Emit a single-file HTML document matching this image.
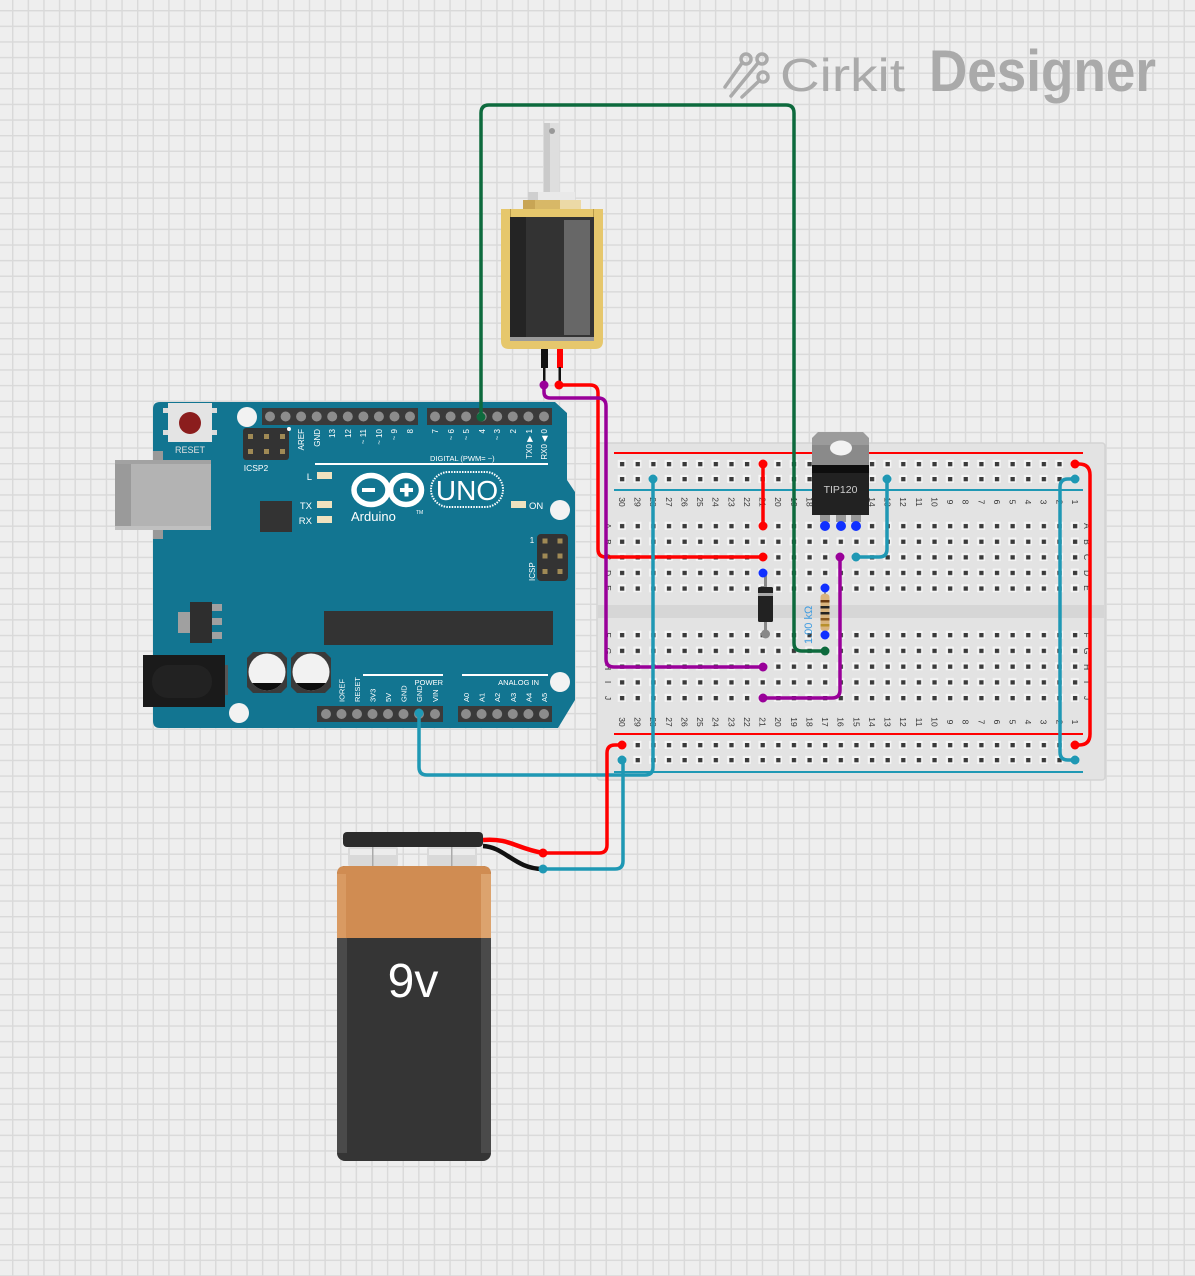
<!DOCTYPE html>
<html><head><meta charset="utf-8"><style>
html,body{margin:0;padding:0;width:1195px;height:1276px;overflow:hidden;background:#eee}
svg{display:block}
text{font-family:"Liberation Sans","DejaVu Sans",sans-serif}
</style></head><body>
<svg width="1195" height="1276" viewBox="0 0 1195 1276" xmlns="http://www.w3.org/2000/svg">
<defs>
<pattern id="grid" x="12" y="10" width="15.62" height="15.62" patternUnits="userSpaceOnUse">
<rect width="15.62" height="15.62" fill="#eeeeee"/>
<rect width="1.4" height="15.62" fill="#d9d9d9"/>
<rect width="15.62" height="1.4" fill="#d9d9d9"/>
</pattern>
<pattern id="hA" x="614.19" y="518.2" width="15.62" height="15.6" patternUnits="userSpaceOnUse">
<rect x="3.6" y="3.6" width="8" height="8" fill="#f5f5f5"/>
<rect x="5.8" y="5.8" width="4.3" height="4.3" fill="#3a3a3a"/>
</pattern>
<pattern id="hF" x="614.19" y="627.1" width="15.62" height="15.75" patternUnits="userSpaceOnUse">
<rect x="3.6" y="3.7" width="8" height="8" fill="#f5f5f5"/>
<rect x="5.8" y="5.9" width="4.3" height="4.3" fill="#3a3a3a"/>
</pattern>
<pattern id="hR1" x="614.19" y="456.5" width="15.62" height="15" patternUnits="userSpaceOnUse">
<rect x="3.6" y="3.3" width="8" height="8" fill="#f5f5f5"/>
<rect x="5.8" y="5.5" width="4.3" height="4.3" fill="#3a3a3a"/>
</pattern>
<pattern id="hR2" x="614.19" y="737.5" width="15.62" height="15" patternUnits="userSpaceOnUse">
<rect x="3.6" y="3.3" width="8" height="8" fill="#f5f5f5"/>
<rect x="5.8" y="5.5" width="4.3" height="4.3" fill="#3a3a3a"/>
</pattern>
<clipPath id="capL"><circle cx="267" cy="672" r="18.5"/></clipPath>
<clipPath id="capR"><circle cx="311" cy="672" r="18.5"/></clipPath>
</defs>

<rect width="1195" height="1276" fill="url(#grid)"/>

<!-- Logo -->
<g stroke="#aaaaaa" stroke-width="3.5" fill="none" stroke-linecap="round">
<line x1="725" y1="87" x2="742" y2="63"/>
<line x1="731" y1="96" x2="758" y2="63"/>
<line x1="742" y1="97" x2="759" y2="81"/>
<circle cx="746" cy="59" r="5"/>
<circle cx="762" cy="59" r="5"/>
<circle cx="763" cy="77" r="5"/>
</g>
<text x="780" y="91" font-size="46" fill="#aaaaaa" textLength="125" lengthAdjust="spacingAndGlyphs">Cirkit</text>
<text x="929" y="91" font-size="58" font-weight="bold" fill="#aaaaaa" textLength="227" lengthAdjust="spacingAndGlyphs">Designer</text>

<!-- Breadboard -->
<rect x="597" y="443" width="508" height="337" rx="3" fill="#e3e3e3" stroke="#d3d3d3" stroke-width="1.5"/>
<rect x="598" y="605" width="506" height="13" fill="#d6d6d6"/>
<rect x="614" y="452" width="469" height="2" fill="#ff0000"/>
<rect x="614" y="489" width="469" height="2" fill="#1f98b4"/>
<rect x="614" y="733" width="469" height="2" fill="#ff0000"/>
<rect x="614" y="771" width="469" height="2" fill="#1f98b4"/>
<rect x="614.19" y="456.5" width="468.6" height="30" fill="url(#hR1)"/>
<rect x="614.19" y="518.2" width="468.6" height="78" fill="url(#hA)"/>
<rect x="614.19" y="627.1" width="468.6" height="78.75" fill="url(#hF)"/>
<rect x="614.19" y="737.5" width="468.6" height="30" fill="url(#hR2)"/>

<g font-size="8.5" fill="#333" text-anchor="middle">
<!-- top numbers -->
<text transform="translate(619,502) rotate(90)">30</text>
<text transform="translate(634.6,502) rotate(90)">29</text>
<text transform="translate(650.2,502) rotate(90)">28</text>
<text transform="translate(665.9,502) rotate(90)">27</text>
<text transform="translate(681.5,502) rotate(90)">26</text>
<text transform="translate(697.1,502) rotate(90)">25</text>
<text transform="translate(712.7,502) rotate(90)">24</text>
<text transform="translate(728.3,502) rotate(90)">23</text>
<text transform="translate(744,502) rotate(90)">22</text>
<text transform="translate(759.6,502) rotate(90)">21</text>
<text transform="translate(775.2,502) rotate(90)">20</text>
<text transform="translate(790.8,502) rotate(90)">19</text>
<text transform="translate(806.4,502) rotate(90)">18</text>
<text transform="translate(822.1,502) rotate(90)">17</text>
<text transform="translate(837.7,502) rotate(90)">16</text>
<text transform="translate(853.3,502) rotate(90)">15</text>
<text transform="translate(868.9,502) rotate(90)">14</text>
<text transform="translate(884.5,502) rotate(90)">13</text>
<text transform="translate(900.2,502) rotate(90)">12</text>
<text transform="translate(915.8,502) rotate(90)">11</text>
<text transform="translate(931.4,502) rotate(90)">10</text>
<text transform="translate(947,502) rotate(90)">9</text>
<text transform="translate(962.6,502) rotate(90)">8</text>
<text transform="translate(978.3,502) rotate(90)">7</text>
<text transform="translate(993.9,502) rotate(90)">6</text>
<text transform="translate(1009.5,502) rotate(90)">5</text>
<text transform="translate(1025.1,502) rotate(90)">4</text>
<text transform="translate(1040.7,502) rotate(90)">3</text>
<text transform="translate(1056.4,502) rotate(90)">2</text>
<text transform="translate(1072,502) rotate(90)">1</text>
<!-- bottom numbers -->
<text transform="translate(619,722) rotate(90)">30</text>
<text transform="translate(634.6,722) rotate(90)">29</text>
<text transform="translate(650.2,722) rotate(90)">28</text>
<text transform="translate(665.9,722) rotate(90)">27</text>
<text transform="translate(681.5,722) rotate(90)">26</text>
<text transform="translate(697.1,722) rotate(90)">25</text>
<text transform="translate(712.7,722) rotate(90)">24</text>
<text transform="translate(728.3,722) rotate(90)">23</text>
<text transform="translate(744,722) rotate(90)">22</text>
<text transform="translate(759.6,722) rotate(90)">21</text>
<text transform="translate(775.2,722) rotate(90)">20</text>
<text transform="translate(790.8,722) rotate(90)">19</text>
<text transform="translate(806.4,722) rotate(90)">18</text>
<text transform="translate(822.1,722) rotate(90)">17</text>
<text transform="translate(837.7,722) rotate(90)">16</text>
<text transform="translate(853.3,722) rotate(90)">15</text>
<text transform="translate(868.9,722) rotate(90)">14</text>
<text transform="translate(884.5,722) rotate(90)">13</text>
<text transform="translate(900.2,722) rotate(90)">12</text>
<text transform="translate(915.8,722) rotate(90)">11</text>
<text transform="translate(931.4,722) rotate(90)">10</text>
<text transform="translate(947,722) rotate(90)">9</text>
<text transform="translate(962.6,722) rotate(90)">8</text>
<text transform="translate(978.3,722) rotate(90)">7</text>
<text transform="translate(993.9,722) rotate(90)">6</text>
<text transform="translate(1009.5,722) rotate(90)">5</text>
<text transform="translate(1025.1,722) rotate(90)">4</text>
<text transform="translate(1040.7,722) rotate(90)">3</text>
<text transform="translate(1056.4,722) rotate(90)">2</text>
<text transform="translate(1072,722) rotate(90)">1</text>
<!-- row letters -->
<text transform="translate(605,526) rotate(90)">A</text>
<text transform="translate(605,542) rotate(90)">B</text>
<text transform="translate(605,557) rotate(90)">C</text>
<text transform="translate(605,573) rotate(90)">D</text>
<text transform="translate(605,588) rotate(90)">E</text>
<text transform="translate(605,635) rotate(90)">F</text>
<text transform="translate(605,651) rotate(90)">G</text>
<text transform="translate(605,667) rotate(90)">H</text>
<text transform="translate(605,682) rotate(90)">I</text>
<text transform="translate(605,698) rotate(90)">J</text>
<text transform="translate(1084,526) rotate(90)">A</text>
<text transform="translate(1084,542) rotate(90)">B</text>
<text transform="translate(1084,557) rotate(90)">C</text>
<text transform="translate(1084,573) rotate(90)">D</text>
<text transform="translate(1084,588) rotate(90)">E</text>
<text transform="translate(1084,635) rotate(90)">F</text>
<text transform="translate(1084,651) rotate(90)">G</text>
<text transform="translate(1084,667) rotate(90)">H</text>
<text transform="translate(1084,682) rotate(90)">I</text>
<text transform="translate(1084,698) rotate(90)">J</text>
</g>

<!-- Arduino board -->
<path d="M160,402 H555 L567,413 V480 L575,492 V700 L558,728 H160 Q153,728 153,721 V409 Q153,402 160,402 Z" fill="#127591"/>
<!-- USB -->
<rect x="153" y="451" width="10" height="88" fill="#999"/>
<rect x="115" y="460" width="96" height="70" fill="#b3b3b3"/>
<rect x="115" y="460" width="16" height="70" fill="#9a9a9a"/>
<rect x="115" y="460" width="96" height="4" fill="#a2a2a2"/>
<rect x="115" y="526" width="96" height="4" fill="#c0c0c0"/>
<!-- Reset -->
<rect x="163" y="408" width="54" height="5" fill="#dcdcdc"/>
<rect x="163" y="430" width="54" height="5" fill="#dcdcdc"/>
<rect x="168" y="403" width="44" height="39" fill="#e4e4e4"/>
<circle cx="190" cy="423" r="11" fill="#8b1d1d"/>
<text x="190" y="453" font-size="9" fill="#e0e0e0" text-anchor="middle">RESET</text>
<!-- holes -->
<circle cx="247" cy="417" r="10" fill="#f2f2f2"/>
<circle cx="560" cy="510" r="10" fill="#f2f2f2"/>
<circle cx="560" cy="682" r="10" fill="#f2f2f2"/>
<circle cx="239" cy="713" r="10" fill="#f2f2f2"/>
<!-- ICSP2 -->
<rect x="243" y="428" width="46" height="32" rx="3" fill="#333"/>
<g fill="#a08a55">
<rect x="248" y="434" width="5" height="5"/><rect x="264" y="434" width="5" height="5"/><rect x="280" y="434" width="5" height="5"/>
<rect x="248" y="449" width="5" height="5"/><rect x="264" y="449" width="5" height="5"/><rect x="280" y="449" width="5" height="5"/>
</g>
<circle cx="289" cy="429" r="2" fill="#fff"/>
<text x="256" y="471" font-size="8.5" fill="#fff" text-anchor="middle">ICSP2</text>
<!-- Top headers -->
<rect x="262" y="408" width="156" height="17" fill="#3a3a3a"/>
<rect x="427" y="408" width="125" height="17" fill="#3a3a3a"/>
<g fill="#8c8c8c">
<circle cx="270" cy="416.5" r="5"/><circle cx="285.6" cy="416.5" r="5"/><circle cx="301.1" cy="416.5" r="5"/><circle cx="316.7" cy="416.5" r="5"/><circle cx="332.2" cy="416.5" r="5"/><circle cx="347.8" cy="416.5" r="5"/><circle cx="363.4" cy="416.5" r="5"/><circle cx="378.9" cy="416.5" r="5"/><circle cx="394.5" cy="416.5" r="5"/><circle cx="410" cy="416.5" r="5"/>
<circle cx="435" cy="416.5" r="5"/><circle cx="450.6" cy="416.5" r="5"/><circle cx="466.1" cy="416.5" r="5"/><circle cx="481.7" cy="416.5" r="5"/><circle cx="497.2" cy="416.5" r="5"/><circle cx="512.8" cy="416.5" r="5"/><circle cx="528.4" cy="416.5" r="5"/><circle cx="544" cy="416.5" r="5"/>
</g>
<g font-size="8" fill="#fff" text-anchor="end">
<text transform="translate(304,429) rotate(-90)">AREF</text>
<text transform="translate(320,429) rotate(-90)">GND</text>
<text transform="translate(335,429) rotate(-90)">13</text>
<text transform="translate(351,429) rotate(-90)">12</text>
<text transform="translate(366,429) rotate(-90)">~ 11</text>
<text transform="translate(382,429) rotate(-90)">~ 10</text>
<text transform="translate(397,429) rotate(-90)">~ 9</text>
<text transform="translate(413,429) rotate(-90)">8</text>
<text transform="translate(438,429) rotate(-90)">7</text>
<text transform="translate(454,429) rotate(-90)">~ 6</text>
<text transform="translate(469,429) rotate(-90)">~ 5</text>
<text transform="translate(485,429) rotate(-90)">4</text>
<text transform="translate(500,429) rotate(-90)">~ 3</text>
<text transform="translate(516,429) rotate(-90)">2</text>
<text transform="translate(532,429) rotate(-90)">TX0 ▶ 1</text>
<text transform="translate(547,429) rotate(-90)">RX0 ◀ 0</text>
</g>
<rect x="315" y="463" width="233" height="2" fill="#fff"/>
<text x="430" y="461" font-size="7.5" fill="#fff">DIGITAL (PWM= ~)</text>
<!-- LEDs -->
<g fill="#efe2bf">
<rect x="317" y="472" width="15" height="7"/>
<rect x="317" y="501" width="15" height="7"/>
<rect x="317" y="516" width="15" height="7"/>
<rect x="511" y="501" width="15" height="7"/>
</g>
<g font-size="9.5" fill="#fff">
<text x="312" y="480" text-anchor="end">L</text>
<text x="312" y="509" text-anchor="end">TX</text>
<text x="312" y="524" text-anchor="end">RX</text>
<text x="529" y="509">ON</text>
</g>
<rect x="260" y="501" width="32" height="31" fill="#333"/>
<!-- Arduino logo -->
<ellipse cx="371" cy="490" rx="17" ry="14.5" fill="none" stroke="#fff" stroke-width="5.5"/>
<ellipse cx="406" cy="490" rx="15.5" ry="14.5" fill="none" stroke="#fff" stroke-width="5.5"/>
<rect x="362" y="488" width="13" height="4" fill="#fff"/>
<rect x="400" y="488" width="13" height="4" fill="#fff"/>
<rect x="404.5" y="483.5" width="4" height="13" fill="#fff"/>
<rect x="431" y="472" width="72" height="35" rx="17.5" fill="none" stroke="#fff" stroke-width="2" stroke-dasharray="1.5 1.2"/>
<text x="467" y="500" font-size="28" fill="#fff" text-anchor="middle">UNO</text>
<text x="351" y="521" font-size="13" fill="#fff">Arduino</text>
<text x="416" y="514" font-size="5" fill="#fff">TM</text>
<!-- right ICSP -->
<rect x="537" y="534" width="31" height="47" rx="4" fill="#333"/>
<g fill="#a08a55">
<rect x="542.5" y="538.5" width="5" height="5"/><rect x="557.5" y="538.5" width="5" height="5"/>
<rect x="542.5" y="553.5" width="5" height="5"/><rect x="557.5" y="553.5" width="5" height="5"/>
<rect x="542.5" y="569" width="5" height="5"/><rect x="557.5" y="569" width="5" height="5"/>
</g>
<text x="532" y="543" font-size="8" fill="#fff" text-anchor="middle">1</text>
<text transform="translate(535,581) rotate(-90)" font-size="8" fill="#fff">ICSP</text>
<!-- regulator -->
<rect x="178" y="612" width="13" height="21" fill="#a0a0a0"/>
<rect x="211" y="604" width="11" height="7" fill="#a0a0a0"/>
<rect x="211" y="618" width="11" height="7" fill="#a0a0a0"/>
<rect x="211" y="632" width="11" height="7" fill="#a0a0a0"/>
<rect x="190" y="602" width="22" height="41" fill="#2e2e2e"/>
<!-- main chip -->
<rect x="324" y="611" width="229" height="34" fill="#333"/>
<!-- power jack -->
<rect x="224" y="665" width="4" height="30" fill="#555"/>
<rect x="143" y="655" width="82" height="52" fill="#1a1a1a"/>
<rect x="152" y="665" width="60" height="33" rx="16" fill="#222"/>
<!-- capacitors -->
<path d="M253,652 H281 L287,658 V687 L281,693 H253 L247,687 V658 Z" fill="#3a3a3a"/>
<path d="M297,652 H325 L331,658 V687 L325,693 H297 L291,687 V658 Z" fill="#3a3a3a"/>
<circle cx="267" cy="672" r="18.5" fill="#f2f2f2"/>
<circle cx="311" cy="672" r="18.5" fill="#f2f2f2"/>
<rect x="245" y="683" width="45" height="12" fill="#0d0d0d" clip-path="url(#capL)"/>
<rect x="289" y="683" width="45" height="12" fill="#0d0d0d" clip-path="url(#capR)"/>
<!-- bottom headers -->
<rect x="317" y="706" width="126" height="16" fill="#3a3a3a"/>
<rect x="458" y="706" width="94" height="16" fill="#3a3a3a"/>
<g fill="#8c8c8c">
<circle cx="326" cy="714" r="5"/><circle cx="341.5" cy="714" r="5"/><circle cx="357" cy="714" r="5"/><circle cx="372.5" cy="714" r="5"/><circle cx="388" cy="714" r="5"/><circle cx="403.5" cy="714" r="5"/><circle cx="419" cy="714" r="5"/><circle cx="435" cy="714" r="5"/>
<circle cx="466" cy="714" r="5"/><circle cx="481.6" cy="714" r="5"/><circle cx="497.2" cy="714" r="5"/><circle cx="512.8" cy="714" r="5"/><circle cx="528.4" cy="714" r="5"/><circle cx="544" cy="714" r="5"/>
</g>
<g font-size="7.5" fill="#fff">
<text transform="translate(344.5,702) rotate(-90)">IOREF</text>
<text transform="translate(360,702) rotate(-90)">RESET</text>
<text transform="translate(375.5,702) rotate(-90)">3V3</text>
<text transform="translate(391,702) rotate(-90)">5V</text>
<text transform="translate(406.5,702) rotate(-90)">GND</text>
<text transform="translate(422,702) rotate(-90)">GND</text>
<text transform="translate(438,702) rotate(-90)">VIN</text>
<text transform="translate(469,702) rotate(-90)">A0</text>
<text transform="translate(484.6,702) rotate(-90)">A1</text>
<text transform="translate(500.2,702) rotate(-90)">A2</text>
<text transform="translate(515.8,702) rotate(-90)">A3</text>
<text transform="translate(531.4,702) rotate(-90)">A4</text>
<text transform="translate(547,702) rotate(-90)">A5</text>
<text x="443" y="685" text-anchor="end">POWER</text>
<text x="539" y="685" text-anchor="end">ANALOG IN</text>
</g>
<rect x="363" y="674" width="80" height="2" fill="#fff"/>
<rect x="462" y="674" width="86" height="2" fill="#fff"/>

<!-- Solenoid -->
<rect x="544" y="123" width="15" height="70" fill="#dedede"/>
<rect x="544" y="123" width="6" height="70" fill="#cacaca"/>
<circle cx="552" cy="131" r="3" fill="#999"/>
<rect x="528" y="192" width="47" height="8" fill="#e9e9e9"/>
<rect x="528" y="192" width="10" height="8" fill="#cfcfcf"/>
<rect x="523" y="200" width="58" height="9" fill="#d8b867"/>
<rect x="523" y="200" width="12" height="9" fill="#c8a555"/>
<rect x="560" y="200" width="21" height="9" fill="#ecd9a6"/>
<path d="M501,209 H603 V341 Q603,349 595,349 H509 Q501,349 501,341 Z" fill="#e6c76c"/>
<rect x="510" y="209" width="1" height="8" fill="#b89a4a"/>
<rect x="593" y="209" width="1" height="8" fill="#b89a4a"/>
<rect x="510" y="217" width="84" height="124" fill="#333"/>
<rect x="510" y="217" width="16" height="124" fill="#242424"/>
<rect x="564" y="220" width="26" height="115" fill="#676767"/>
<rect x="510" y="337" width="84" height="4" fill="#9a9a9a"/>
<rect x="541" y="349" width="7" height="19" fill="#111"/>
<rect x="557" y="349" width="6" height="19" fill="#ff0000"/>
<rect x="543" y="367" width="2.5" height="18" fill="#111"/>
<rect x="558.5" y="367" width="2.5" height="18" fill="#111"/>

<!-- Battery -->
<path d="M483,840 C510,838 515,848 543,853" fill="none" stroke="#ff0000" stroke-width="4.5"/>
<path d="M483,846 C505,847 515,869 543,869" fill="none" stroke="#111" stroke-width="4.5"/>
<rect x="348" y="846" width="50" height="21" rx="3" fill="#d9d9d9"/>
<rect x="427" y="846" width="50" height="21" rx="3" fill="#d9d9d9"/>
<rect x="350" y="849" width="46" height="6" fill="#ececec"/>
<rect x="429" y="849" width="46" height="6" fill="#ececec"/>
<rect x="372" y="847" width="1.5" height="19" fill="#aaa"/>
<rect x="451" y="847" width="1.5" height="19" fill="#aaa"/>
<rect x="343" y="832" width="140" height="15" rx="4" fill="#2b2b2b"/>
<rect x="337" y="866" width="154" height="295" rx="8" fill="#353535"/>
<path d="M345,866 H483 Q491,866 491,874 V938 H337 V874 Q337,866 345,866 Z" fill="#d08c52"/>
<rect x="337" y="874" width="9" height="64" fill="#d99a62"/>
<rect x="481" y="874" width="10" height="64" fill="#dca36e"/>
<rect x="337" y="938" width="10" height="215" fill="#4a4a4a"/>
<rect x="481" y="938" width="10" height="215" fill="#4a4a4a"/>
<text x="413" y="997" font-size="48" fill="#fff" text-anchor="middle">9v</text>

<!-- Breadboard components -->
<!-- Diode -->
<rect x="764" y="573" width="3" height="62" fill="#888"/>
<rect x="758" y="587" width="15" height="35" rx="1.5" fill="#222"/>
<rect x="758" y="593" width="15" height="3" fill="#aaa"/>
<circle cx="763" cy="573" r="4.5" fill="#1030ff"/>
<circle cx="765.5" cy="634" r="4.5" fill="#888"/>
<!-- Resistor -->
<rect x="824" y="588" width="2" height="47" fill="#999"/>
<rect x="820.5" y="594" width="9" height="37" rx="3" fill="#d9b47e"/>
<rect x="820.5" y="600" width="9" height="2.5" fill="#6b3b12"/>
<rect x="820.5" y="606" width="9" height="2.5" fill="#222"/>
<rect x="820.5" y="612" width="9" height="2.5" fill="#222"/>
<rect x="820.5" y="618" width="9" height="2.5" fill="#8a5a20"/>
<rect x="820.5" y="624" width="9" height="2.5" fill="#b8902c"/>
<circle cx="825" cy="588" r="4.5" fill="#1030ff"/>
<circle cx="825" cy="635" r="4.5" fill="#1030ff"/>
<text transform="translate(812,644) rotate(-90)" font-size="11" fill="#3d9be0">1.00 kΩ</text>
<!-- TIP120 -->
<rect x="820" y="514" width="10" height="8" fill="#999"/>
<rect x="836" y="514" width="10" height="8" fill="#999"/>
<rect x="851" y="514" width="10" height="8" fill="#999"/>
<path d="M818,432 H863 L869,438 V465 H812 V438 Z" fill="#9b9b9b"/>
<rect x="812" y="445" width="57" height="20" fill="#8a8a8a"/>
<ellipse cx="841" cy="448" rx="11" ry="7.5" fill="#f2f2f2"/>
<rect x="812" y="465" width="57" height="50" fill="#222"/>
<rect x="812" y="465" width="57" height="8" fill="#0e0e0e"/>
<text x="840.5" y="493" font-size="10.5" fill="#cfcfcf" text-anchor="middle">TIP120</text>
<circle cx="825" cy="526" r="5" fill="#1030ff"/>
<circle cx="841" cy="526" r="5" fill="#1030ff"/>
<circle cx="856" cy="526" r="5" fill="#1030ff"/>

<!-- Wires -->
<g fill="none" stroke-width="3.5" stroke-linecap="round" stroke-linejoin="round">
<path d="M481,417 V113 Q481,105 489,105 H786 Q794,105 794,113 V643 Q794,651 802,651 H825" stroke="#0d6a3d"/>
<path d="M559,385 H590 Q598,385 598,393 V549 Q598,557 606,557 H763" stroke="#ff0000"/>
<path d="M544,385 V392 Q544,398 550,398 H598 Q606,398 606,406 V659 Q606,667 614,667 H763" stroke="#990099"/>
<path d="M763,464 V526" stroke="#ff0000"/>
<path d="M763,698 H832 Q840,698 840,690 V557" stroke="#990099"/>
<path d="M856,557 H879 Q887,557 887,549 V479" stroke="#1f98b4"/>
<path d="M1075,464 H1079 Q1090,464 1090,475 V734 Q1090,745 1079,745 H1075" stroke="#ff0000"/>
<path d="M1075,479 H1068 Q1060,479 1060,487 V752 Q1060,760 1068,760 H1075" stroke="#1f98b4"/>
<path d="M419,713 V767 Q419,775 427,775 H645 Q653,775 653,767 V479" stroke="#1f98b4"/>
<path d="M543,853 H599 Q607,853 607,845 V753 Q607,745 615,745 H622" stroke="#ff0000"/>
<path d="M543,869 H615 Q623,869 623,861 V760" stroke="#1f98b4"/>
</g>
<g>
<circle cx="481" cy="417" r="4.5" fill="#0d6a3d"/><circle cx="825" cy="651" r="4.5" fill="#0d6a3d"/>
<circle cx="559" cy="385" r="4.5" fill="#ff0000"/><circle cx="763" cy="557" r="4.5" fill="#ff0000"/>
<circle cx="544" cy="385" r="4.5" fill="#990099"/><circle cx="763" cy="667" r="4.5" fill="#990099"/>
<circle cx="763" cy="464" r="4.5" fill="#ff0000"/><circle cx="763" cy="526" r="4.5" fill="#ff0000"/>
<circle cx="763" cy="698" r="4.5" fill="#990099"/><circle cx="840" cy="557" r="4.5" fill="#990099"/>
<circle cx="856" cy="557" r="4.5" fill="#1f98b4"/><circle cx="887" cy="479" r="4.5" fill="#1f98b4"/>
<circle cx="1075" cy="464" r="4.5" fill="#ff0000"/><circle cx="1075" cy="745" r="4.5" fill="#ff0000"/>
<circle cx="1075" cy="479" r="4.5" fill="#1f98b4"/><circle cx="1075" cy="760" r="4.5" fill="#1f98b4"/>
<circle cx="419" cy="713" r="4.5" fill="#1f98b4"/><circle cx="653" cy="479" r="4.5" fill="#1f98b4"/>
<circle cx="543" cy="853" r="4.5" fill="#ff0000"/><circle cx="622" cy="745" r="4.5" fill="#ff0000"/>
<circle cx="543" cy="869" r="4.5" fill="#1f98b4"/><circle cx="622" cy="760" r="4.5" fill="#1f98b4"/>
</g>
</svg>
</body></html>
